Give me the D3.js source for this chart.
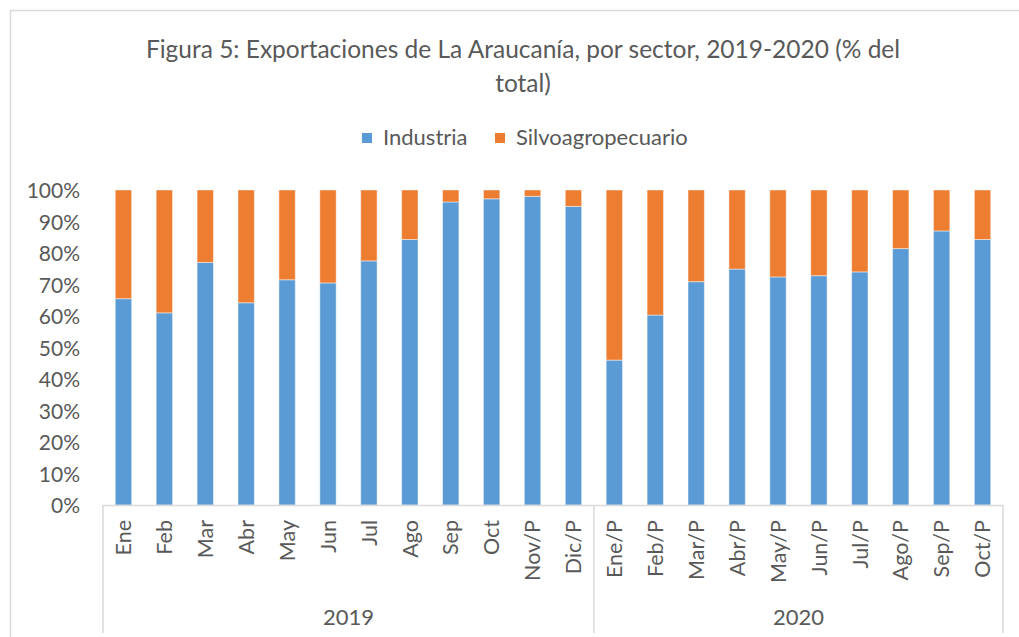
<!DOCTYPE html>
<html>
<head>
<meta charset="utf-8">
<script src="https://cdn.jsdelivr.net/npm/d3@7"></script>
<style>
  body { margin: 0; background: #fff; }
  svg text { font-family: Lato, "Open Sans", sans-serif; fill: #595959; }
</style>
</head>
<body>
<svg width="1019" height="637"></svg>
<script>
// data
var months = ["Ene", "Feb", "Mar", "Abr", "May", "Jun", "Jul", "Ago", "Sep", "Oct", "Nov/P", "Dic/P",
              "Ene/P", "Feb/P", "Mar/P", "Abr/P", "May/P", "Jun/P", "Jul/P", "Ago/P", "Sep/P", "Oct/P"];
var years = ["2019", "2019", "2019", "2019", "2019", "2019", "2019", "2019", "2019", "2019", "2019", "2019",
             "2020", "2020", "2020", "2020", "2020", "2020", "2020", "2020", "2020", "2020"];
var industria = [65.5, 61, 77, 64.2, 71.5, 70.5, 77.5, 84.3, 96.2, 97.2, 98, 94.8,
                 46, 60.3, 70.9, 74.9, 72.4, 72.8, 74, 81.4, 87, 84.3];
var silvo = industria.map(d => 100 - d);
var yearGroups = ["2019", "2020"];
var yTicks = [0, 10, 20, 30, 40, 50, 60, 70, 80, 90, 100];
var seriesNames = ["Industria", "Silvoagropecuario"];
var colors = ["#5B9BD5", "#ED7D31"];

var svg = d3.select("svg"),
    width = +svg.attr("width"),
    height = +svg.attr("height");

var margin = {top: 190, right: 16, bottom: 132, left: 103};

// chart frame
svg.append("rect")
    .attr("x", 10.5).attr("y", 10.5)
    .attr("width", 1040).attr("height", 660)
    .attr("fill", "none")
    .attr("stroke", "#d9d9d9")
    .attr("stroke-width", 1.5);

// title
var title = svg.append("text")
    .attr("text-anchor", "middle")
    .style("font-size", "24.5px");
title.append("tspan").attr("x", 523).attr("y", 58)
    .text("Figura 5: Exportaciones de La Araucanía, por sector, 2019-2020 (% del");
title.append("tspan").attr("x", 523).attr("y", 92)
    .text("total)");

// legend
var legendX = [362, 495];
var legend = svg.append("g").selectAll("g")
    .data(seriesNames)
    .enter().append("g")
    .attr("transform", (d, i) => "translate(" + legendX[i] + ",133)");
legend.append("rect")
    .attr("width", 10).attr("height", 10)
    .attr("fill", (d, i) => colors[i]);
legend.append("text")
    .attr("x", 21).attr("y", 12)
    .style("font-size", "22px")
    .text(d => d);

var x = d3.scaleBand()
    .domain(months.map((m, i) => i))
    .range([margin.left, width - margin.right])
    .paddingInner(0.6)
    .paddingOuter(0.3);

var y = d3.scaleLinear()
    .domain([0, 100])
    .range([height - margin.bottom, margin.top]);

// stacked bars
var rows = months.map((m, i) => ({i: i, Industria: industria[i], Silvoagropecuario: silvo[i]}));
var stack = d3.stack().keys(seriesNames)(rows);

svg.append("g").selectAll("g")
    .data(stack)
    .enter().append("g")
    .attr("fill", (d, k) => colors[k])
    .selectAll("rect")
    .data(d => d)
    .enter().append("rect")
    .attr("x", d => x(d.data.i))
    .attr("y", d => y(d[1]))
    .attr("width", x.bandwidth())
    .attr("height", d => y(d[0]) - y(d[1]))
    .attr("stroke", "#fff")
    .attr("stroke-opacity", 0.45)
    .attr("stroke-width", 1);

// y axis, labels only
var yAxis = svg.append("g")
    .attr("transform", "translate(" + (margin.left - 23) + ",0)")
    .call(d3.axisLeft(y).tickValues(yTicks).tickSize(0).tickFormat(d => d + "%"));
yAxis.select(".domain").remove();
yAxis.selectAll("text")
    .attr("x", 0)
    .attr("dy", "0.36em")
    .style("font-size", "21px");

// category axis
var y0 = y(0);
var axisBottom = height - 4;
svg.append("line")
    .attr("x1", margin.left).attr("x2", width - margin.right)
    .attr("y1", y0 + 0.5).attr("y2", y0 + 0.5)
    .attr("stroke", "#d9d9d9").attr("stroke-width", 1.5);

svg.append("g").selectAll("text")
    .data(months)
    .enter().append("text")
    .attr("transform", (d, i) => "translate(" + (x(i) + x.bandwidth() / 2) + "," + (y0 + 15) + ") rotate(-90)")
    .attr("text-anchor", "end")
    .attr("dy", "0.36em")
    .style("font-size", "21.5px")
    .text(d => d);

// year groups
var groupBounds = yearGroups.map(function(g) {
  var idx = years.map((yy, i) => yy === g ? i : -1).filter(i => i >= 0);
  var first = idx[0], last = idx[idx.length - 1];
  return {
    name: g,
    x0: x(first) - (x.step() - x.bandwidth()) / 2,
    x1: x(last) + x.bandwidth() + (x.step() - x.bandwidth()) / 2
  };
});
groupBounds[0].x0 = margin.left;
groupBounds[groupBounds.length - 1].x1 = width - margin.right;

var sepX = [groupBounds[0].x0].concat(groupBounds.map(d => d.x1));
svg.append("g").selectAll("line")
    .data(sepX)
    .enter().append("line")
    .attr("x1", d => d).attr("x2", d => d)
    .attr("y1", y0).attr("y2", axisBottom)
    .attr("stroke", "#d9d9d9").attr("stroke-width", 1.5);

svg.append("g").selectAll("text")
    .data(groupBounds)
    .enter().append("text")
    .attr("x", d => (d.x0 + d.x1) / 2)
    .attr("y", 625)
    .attr("text-anchor", "middle")
    .style("font-size", "22px")
    .text(d => d.name);
</script>
</body>
</html>
